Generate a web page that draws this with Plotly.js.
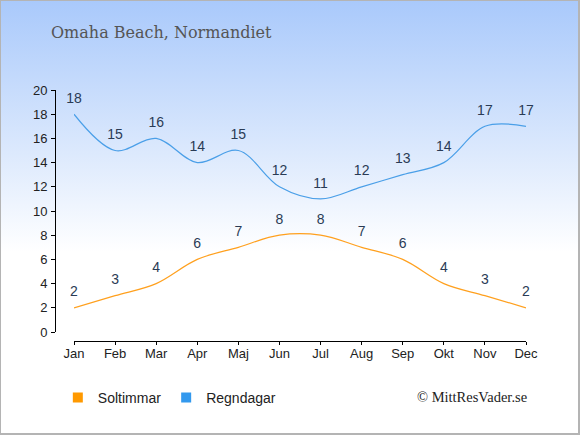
<!DOCTYPE html>
<html>
<head>
<meta charset="utf-8">
<script src="https://cdn.plot.ly/plotly-3.0.1.min.js"></script>
<style>
  html, body { margin: 0; padding: 0; }
  #wrap { position: relative; width: 580px; height: 435px; background: linear-gradient(to bottom, #a9c9fb 0%, #dce9fd 35%, #ffffff 58%, #ffffff 100%); overflow: hidden; }
  #chart { position: absolute; left: 0; top: 0; width: 580px; height: 435px; }
  #border { position: absolute; left: 0; top: 0; width: 580px; height: 435px; box-sizing: border-box; border: 1px solid #b4b4b4; border-right-width: 2px; border-bottom-width: 2px; pointer-events: none; }
</style>
</head>
<body>
<div id="wrap"><div id="chart"></div><div id="border"></div></div>
<script>
const months = ["Jan","Feb","Mar","Apr","Maj","Jun","Jul","Aug","Sep","Okt","Nov","Dec"];
const soltimmar = [2,3,4,6,7,8,8,7,6,4,3,2];
const regndagar = [18,15,16,14,15,12,11,12,13,14,17,17];
const yTicks = [0,2,4,6,8,10,12,14,16,18,20];

const W = 580, H = 435, L = 55, R = 54, T = 90, B = 94;
const PW = W - L - R, PH = H - T - B;
const labelColor = "#2a3b55";

const traces = [
  {
    x: months, y: soltimmar, text: soltimmar.map(String),
    mode: "lines+markers+text", textposition: "top center",
    marker: { size: 11, opacity: 0, color: "#ffa01e" },
    line: { color: "#ffa01e", width: 1.2, shape: "spline", smoothing: 1 },
    textfont: { family: "Liberation Sans, Arial, sans-serif", size: 14, color: labelColor },
    cliponaxis: false, showlegend: false, hoverinfo: "skip"
  },
  {
    x: months, y: regndagar, text: regndagar.map(String),
    mode: "lines+markers+text", textposition: "top center",
    marker: { size: 11, opacity: 0, color: "#4a9fe8" },
    line: { color: "#4a9fe8", width: 1.2, shape: "spline", smoothing: 1 },
    textfont: { family: "Liberation Sans, Arial, sans-serif", size: 14, color: labelColor },
    cliponaxis: false, showlegend: false, hoverinfo: "skip"
  },
  {
    x: [null], y: [null], name: "Soltimmar", mode: "markers",
    marker: { symbol: "square", size: 10, color: "#ff9900" }, showlegend: true
  },
  {
    x: [null], y: [null], name: "Regndagar", mode: "markers",
    marker: { symbol: "square", size: 10, color: "#3399ee" }, showlegend: true
  }
];

const layout = {
  width: W, height: H,
  margin: { l: L, r: R, t: T, b: B, pad: 0 },
  paper_bgcolor: "rgba(0,0,0,0)", plot_bgcolor: "rgba(0,0,0,0)",
  font: { family: "Liberation Sans, Arial, sans-serif", size: 13, color: "#222" },
  title: {
    text: "Omaha Beach, Normandiet",
    xref: "container", x: 51 / W, xanchor: "left",
    yref: "container", y: 1 - 32 / H, yanchor: "middle",
    font: { family: "DejaVu Serif, serif", size: 16, color: "#555" }
  },
  xaxis: {
    type: "category", range: [0, 11], domain: [19 / PW, 1],
    anchor: "free", position: 0,
    showgrid: false, zeroline: false, showline: true, linecolor: "#000", linewidth: 1,
    ticks: "outside", ticklen: 3, tickcolor: "#000", ticklabelstandoff: -3,
    tickfont: { size: 13, color: "#222" }, fixedrange: true
  },
  yaxis: {
    range: [0, 20], domain: [9 / PH, 1], tickvals: yTicks,
    anchor: "free", position: 0,
    showgrid: false, zeroline: false, showline: true, linecolor: "#000", linewidth: 1,
    ticks: "outside", ticklen: 4, tickcolor: "#000", ticklabelstandoff: 1,
    tickfont: { size: 13, color: "#222" }, fixedrange: true
  },
  legend: {
    orientation: "h", x: 0.006, xanchor: "left", y: (341 - 398) / PH, yanchor: "middle",
    font: { family: "Liberation Sans, Arial, sans-serif", size: 14, color: "#222" },
    bgcolor: "rgba(0,0,0,0)"
  },
  annotations: [{
    text: "© MittResVader.se", showarrow: false,
    xref: "paper", x: (529 - L) / PW, xanchor: "right",
    yref: "paper", y: (341 - 397) / PH, yanchor: "middle",
    font: { family: "Liberation Serif, serif", size: 14.5, color: "#222" }
  }]
};

Plotly.newPlot("chart", traces, layout, { displayModeBar: false, staticPlot: true });
</script>
</body>
</html>
